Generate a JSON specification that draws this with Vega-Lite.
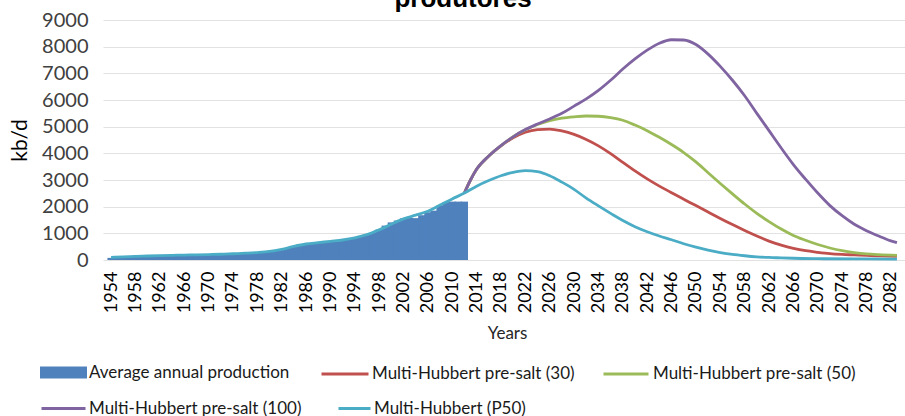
{
  "$schema": "https://vega.github.io/schema/vega-lite/v6.json",
  "width": 802,
  "height": 240,
  "autosize": {"type": "none"},
  "padding": {"left": 103, "top": 20, "right": 0, "bottom": 156},
  "background": "white",
  "title": {
    "text": "produtores",
    "font": "Liberation Sans",
    "fontSize": 26,
    "fontWeight": "bold",
    "color": "#000000",
    "anchor": "middle",
    "baseline": "alphabetic",
    "offset": 0,
    "dx": -41,
    "dy": 23
  },
  "config": {
    "view": {"stroke": null},
    "font": "Lato"
  },
  "datasets": {
    "production": [
      {"year": 1954, "kbd": 80}, {"year": 1955, "kbd": 90}, {"year": 1956, "kbd": 100}, {"year": 1957, "kbd": 112},
      {"year": 1958, "kbd": 125}, {"year": 1959, "kbd": 135}, {"year": 1960, "kbd": 145}, {"year": 1961, "kbd": 155},
      {"year": 1962, "kbd": 160}, {"year": 1963, "kbd": 165}, {"year": 1964, "kbd": 170}, {"year": 1965, "kbd": 175},
      {"year": 1966, "kbd": 180}, {"year": 1967, "kbd": 185}, {"year": 1968, "kbd": 190}, {"year": 1969, "kbd": 195},
      {"year": 1970, "kbd": 200}, {"year": 1971, "kbd": 205}, {"year": 1972, "kbd": 210}, {"year": 1973, "kbd": 220},
      {"year": 1974, "kbd": 230}, {"year": 1975, "kbd": 240}, {"year": 1976, "kbd": 250}, {"year": 1977, "kbd": 260},
      {"year": 1978, "kbd": 270}, {"year": 1979, "kbd": 285}, {"year": 1980, "kbd": 305}, {"year": 1981, "kbd": 340},
      {"year": 1982, "kbd": 395}, {"year": 1983, "kbd": 450}, {"year": 1984, "kbd": 520}, {"year": 1985, "kbd": 580},
      {"year": 1986, "kbd": 600}, {"year": 1987, "kbd": 610}, {"year": 1988, "kbd": 630}, {"year": 1989, "kbd": 655},
      {"year": 1990, "kbd": 680}, {"year": 1991, "kbd": 700}, {"year": 1992, "kbd": 730}, {"year": 1993, "kbd": 770},
      {"year": 1994, "kbd": 820}, {"year": 1995, "kbd": 870}, {"year": 1996, "kbd": 940}, {"year": 1997, "kbd": 1020},
      {"year": 1998, "kbd": 1140}, {"year": 1999, "kbd": 1290}, {"year": 2000, "kbd": 1410}, {"year": 2001, "kbd": 1480},
      {"year": 2002, "kbd": 1560}, {"year": 2003, "kbd": 1580}, {"year": 2004, "kbd": 1570}, {"year": 2005, "kbd": 1680},
      {"year": 2006, "kbd": 1790}, {"year": 2007, "kbd": 1850}, {"year": 2008, "kbd": 2050}, {"year": 2009, "kbd": 2170},
      {"year": 2010, "kbd": 2190}, {"year": 2011, "kbd": 2190}, {"year": 2012, "kbd": 2190}
    ],
    "presalt30": [
      {"year": 2012, "kbd": 2510}, {"year": 2013, "kbd": 3000}, {"year": 2014, "kbd": 3400}, {"year": 2016, "kbd": 3900},
      {"year": 2018, "kbd": 4280}, {"year": 2020, "kbd": 4580}, {"year": 2022, "kbd": 4790}, {"year": 2024, "kbd": 4890},
      {"year": 2026, "kbd": 4910}, {"year": 2028, "kbd": 4840}, {"year": 2030, "kbd": 4710}, {"year": 2032, "kbd": 4520},
      {"year": 2034, "kbd": 4280}, {"year": 2036, "kbd": 3990}, {"year": 2038, "kbd": 3660}, {"year": 2040, "kbd": 3340},
      {"year": 2042, "kbd": 3040}, {"year": 2044, "kbd": 2770}, {"year": 2046, "kbd": 2520}, {"year": 2048, "kbd": 2280},
      {"year": 2050, "kbd": 2040}, {"year": 2052, "kbd": 1800}, {"year": 2054, "kbd": 1560}, {"year": 2056, "kbd": 1330},
      {"year": 2058, "kbd": 1110}, {"year": 2060, "kbd": 900}, {"year": 2062, "kbd": 710}, {"year": 2064, "kbd": 560},
      {"year": 2066, "kbd": 440}, {"year": 2068, "kbd": 350}, {"year": 2070, "kbd": 290}, {"year": 2072, "kbd": 240},
      {"year": 2074, "kbd": 210}, {"year": 2076, "kbd": 190}, {"year": 2078, "kbd": 170}, {"year": 2080, "kbd": 155},
      {"year": 2083, "kbd": 140}
    ],
    "presalt50": [
      {"year": 2012, "kbd": 2510}, {"year": 2013, "kbd": 3000}, {"year": 2014, "kbd": 3400}, {"year": 2016, "kbd": 3900},
      {"year": 2018, "kbd": 4290}, {"year": 2020, "kbd": 4620}, {"year": 2022, "kbd": 4880}, {"year": 2024, "kbd": 5080},
      {"year": 2026, "kbd": 5230}, {"year": 2028, "kbd": 5320}, {"year": 2030, "kbd": 5370}, {"year": 2032, "kbd": 5400},
      {"year": 2034, "kbd": 5390}, {"year": 2036, "kbd": 5340}, {"year": 2038, "kbd": 5240}, {"year": 2040, "kbd": 5060},
      {"year": 2042, "kbd": 4850}, {"year": 2044, "kbd": 4600}, {"year": 2046, "kbd": 4330}, {"year": 2048, "kbd": 4030},
      {"year": 2050, "kbd": 3680}, {"year": 2052, "kbd": 3270}, {"year": 2054, "kbd": 2870}, {"year": 2056, "kbd": 2480},
      {"year": 2058, "kbd": 2100}, {"year": 2060, "kbd": 1750}, {"year": 2062, "kbd": 1440}, {"year": 2064, "kbd": 1160},
      {"year": 2066, "kbd": 920}, {"year": 2068, "kbd": 740}, {"year": 2070, "kbd": 580}, {"year": 2072, "kbd": 450},
      {"year": 2074, "kbd": 350}, {"year": 2076, "kbd": 280}, {"year": 2078, "kbd": 230}, {"year": 2080, "kbd": 200},
      {"year": 2083, "kbd": 170}
    ],
    "presalt100": [
      {"year": 2012, "kbd": 2510}, {"year": 2013, "kbd": 3000}, {"year": 2014, "kbd": 3400}, {"year": 2016, "kbd": 3900},
      {"year": 2018, "kbd": 4290}, {"year": 2020, "kbd": 4620}, {"year": 2022, "kbd": 4890}, {"year": 2024, "kbd": 5100},
      {"year": 2026, "kbd": 5290}, {"year": 2028, "kbd": 5500}, {"year": 2030, "kbd": 5770}, {"year": 2032, "kbd": 6040},
      {"year": 2034, "kbd": 6360}, {"year": 2036, "kbd": 6740}, {"year": 2038, "kbd": 7160}, {"year": 2040, "kbd": 7540},
      {"year": 2042, "kbd": 7870}, {"year": 2044, "kbd": 8130}, {"year": 2046, "kbd": 8260}, {"year": 2048, "kbd": 8250},
      {"year": 2050, "kbd": 8080}, {"year": 2052, "kbd": 7720}, {"year": 2054, "kbd": 7260}, {"year": 2056, "kbd": 6740},
      {"year": 2058, "kbd": 6160}, {"year": 2060, "kbd": 5500}, {"year": 2062, "kbd": 4850}, {"year": 2064, "kbd": 4200},
      {"year": 2066, "kbd": 3580}, {"year": 2068, "kbd": 3030}, {"year": 2070, "kbd": 2510}, {"year": 2072, "kbd": 2040},
      {"year": 2074, "kbd": 1660}, {"year": 2076, "kbd": 1340}, {"year": 2078, "kbd": 1100}, {"year": 2080, "kbd": 900},
      {"year": 2082, "kbd": 720}, {"year": 2083, "kbd": 650}
    ],
    "p50": [
      {"year": 1954, "kbd": 100}, {"year": 1956, "kbd": 115}, {"year": 1958, "kbd": 135}, {"year": 1960, "kbd": 150},
      {"year": 1962, "kbd": 165}, {"year": 1964, "kbd": 175}, {"year": 1966, "kbd": 185}, {"year": 1968, "kbd": 195},
      {"year": 1970, "kbd": 205}, {"year": 1972, "kbd": 215}, {"year": 1974, "kbd": 235}, {"year": 1976, "kbd": 255},
      {"year": 1978, "kbd": 280}, {"year": 1980, "kbd": 320}, {"year": 1982, "kbd": 400}, {"year": 1984, "kbd": 510},
      {"year": 1986, "kbd": 600}, {"year": 1988, "kbd": 650}, {"year": 1990, "kbd": 700}, {"year": 1992, "kbd": 750},
      {"year": 1994, "kbd": 830}, {"year": 1996, "kbd": 950}, {"year": 1998, "kbd": 1130}, {"year": 2000, "kbd": 1340},
      {"year": 2002, "kbd": 1540}, {"year": 2004, "kbd": 1680}, {"year": 2006, "kbd": 1830}, {"year": 2008, "kbd": 2060},
      {"year": 2010, "kbd": 2290}, {"year": 2012, "kbd": 2510}, {"year": 2014, "kbd": 2770}, {"year": 2016, "kbd": 2980},
      {"year": 2018, "kbd": 3160}, {"year": 2020, "kbd": 3290}, {"year": 2022, "kbd": 3350}, {"year": 2024, "kbd": 3310},
      {"year": 2026, "kbd": 3160}, {"year": 2028, "kbd": 2920}, {"year": 2030, "kbd": 2650}, {"year": 2032, "kbd": 2320},
      {"year": 2034, "kbd": 2030}, {"year": 2036, "kbd": 1750}, {"year": 2038, "kbd": 1480}, {"year": 2040, "kbd": 1250},
      {"year": 2042, "kbd": 1060}, {"year": 2044, "kbd": 900}, {"year": 2046, "kbd": 760}, {"year": 2048, "kbd": 610},
      {"year": 2050, "kbd": 480}, {"year": 2052, "kbd": 370}, {"year": 2054, "kbd": 280}, {"year": 2056, "kbd": 210},
      {"year": 2058, "kbd": 160}, {"year": 2060, "kbd": 120}, {"year": 2062, "kbd": 95}, {"year": 2064, "kbd": 80},
      {"year": 2066, "kbd": 65}, {"year": 2070, "kbd": 50}, {"year": 2076, "kbd": 40}, {"year": 2083, "kbd": 35}
    ]
  },
  "encoding": {
    "x": {
      "field": "year",
      "type": "quantitative",
      "scale": {"domain": [1953.5, 2083.5], "nice": false, "zero": false},
      "axis": {
        "values": [1954, 1958, 1962, 1966, 1970, 1974, 1978, 1982, 1986, 1990, 1994, 1998, 2002, 2006, 2010, 2014, 2018, 2022, 2026, 2030, 2034, 2038, 2042, 2046, 2050, 2054, 2058, 2062, 2066, 2070, 2074, 2078, 2082],
        "format": "d",
        "labelAngle": -90,
        "labelFont": "Lato",
        "labelFontSize": 18,
        "labelColor": "#000000",
        "labelPadding": 11,
        "labelOverlap": false,
        "labelFlush": false,
        "ticks": false,
        "tickSize": 0,
        "domain": false,
        "grid": false,
        "title": "Years",
        "titleFont": "Lato",
        "titleFontSize": 17,
        "titleFontWeight": "normal",
        "titleColor": "#262626",
        "titleX": 404,
        "titleY": 73,
        "titleAlign": "center",
        "titleBaseline": "middle"
      }
    },
    "y": {
      "field": "kbd",
      "type": "quantitative",
      "scale": {"domain": [0, 9000], "nice": false},
      "axis": {
        "values": [0, 1000, 2000, 3000, 4000, 5000, 6000, 7000, 8000, 9000],
        "format": "d",
        "labelFont": "Lato",
        "labelFontSize": 20,
        "labelColor": "#404040",
        "labelPadding": 15,
        "ticks": false,
        "tickSize": 0,
        "domain": false,
        "grid": true,
        "gridColor": "#e2e2e2",
        "gridWidth": 1.2,
        "title": "kb/d",
        "titleFont": "Lato",
        "titleFontSize": 21,
        "titleFontWeight": "normal",
        "titleColor": "#000000",
        "titleAngle": -90,
        "titleX": -83,
        "titleY": 120,
        "titleAlign": "center",
        "titleBaseline": "middle"
      }
    }
  },
  "layer": [
    {
      "data": {"name": "production"},
      "mark": {"type": "bar", "width": 7.2},
      "encoding": {
        "fill": {
          "datum": "Average annual production",
          "scale": {"domain": ["Average annual production"], "range": ["#4F81BD"]},
          "legend": {
            "orient": "none", "legendX": -63, "legendY": 329, "title": null, "padding": 0,
            "symbolType": "M-1,-0.26H1V0.26H-1Z", "symbolSize": 2209, "symbolStrokeWidth": 0, "symbolOpacity": 1,
            "labelFont": "Lato", "labelFontSize": 17, "labelColor": "#1a1a1a", "labelOffset": 2, "labelLimit": 0
          }
        }
      }
    },
    {
      "data": {"name": "presalt30"},
      "mark": {"type": "line", "interpolate": "monotone", "strokeWidth": 2.8},
      "encoding": {
        "stroke": {
          "datum": "Multi-Hubbert pre-salt (30)",
          "scale": {"domain": ["Multi-Hubbert pre-salt (30)"], "range": ["#C0504D"]},
          "legend": {
            "orient": "none", "legendX": 217, "legendY": 329, "title": null, "padding": 0,
            "symbolType": "stroke", "symbolSize": 2209, "symbolStrokeWidth": 3,
            "labelFont": "Lato", "labelFontSize": 17, "labelColor": "#1a1a1a", "labelOffset": 2, "labelLimit": 0
          }
        }
      }
    },
    {
      "data": {"name": "presalt50"},
      "mark": {"type": "line", "interpolate": "monotone", "strokeWidth": 2.8},
      "encoding": {
        "stroke": {
          "datum": "Multi-Hubbert pre-salt (50)",
          "scale": {"domain": ["Multi-Hubbert pre-salt (50)"], "range": ["#9BBB59"]},
          "legend": {
            "orient": "none", "legendX": 499, "legendY": 330, "title": null, "padding": 0,
            "symbolType": "stroke", "symbolSize": 2025, "symbolStrokeWidth": 3,
            "labelFont": "Lato", "labelFontSize": 17, "labelColor": "#1a1a1a", "labelOffset": 3, "labelLimit": 0
          }
        }
      }
    },
    {
      "data": {"name": "presalt100"},
      "mark": {"type": "line", "interpolate": "monotone", "strokeWidth": 2.8},
      "encoding": {
        "stroke": {
          "datum": "Multi-Hubbert pre-salt (100)",
          "scale": {"domain": ["Multi-Hubbert pre-salt (100)"], "range": ["#8064A2"]},
          "legend": {
            "orient": "none", "legendX": -63, "legendY": 365, "title": null, "padding": 0,
            "symbolType": "stroke", "symbolSize": 1936, "symbolStrokeWidth": 3,
            "labelFont": "Lato", "labelFontSize": 17, "labelColor": "#1a1a1a", "labelOffset": 2, "labelLimit": 0
          }
        }
      }
    },
    {
      "data": {"name": "p50"},
      "mark": {"type": "line", "interpolate": "monotone", "strokeWidth": 2.8},
      "encoding": {
        "stroke": {
          "datum": "Multi-Hubbert (P50)",
          "scale": {"domain": ["Multi-Hubbert (P50)"], "range": ["#4BACC6"]},
          "legend": {
            "orient": "none", "legendX": 234, "legendY": 371, "title": null, "padding": 0,
            "symbolType": "stroke", "symbolSize": 1024, "symbolStrokeWidth": 3,
            "labelFont": "Lato", "labelFontSize": 17, "labelColor": "#1a1a1a", "labelOffset": 2, "labelLimit": 0
          }
        }
      }
    }
  ],
  "resolve": {"scale": {"fill": "independent", "stroke": "independent"}, "legend": {"fill": "independent", "stroke": "independent"}}
}
